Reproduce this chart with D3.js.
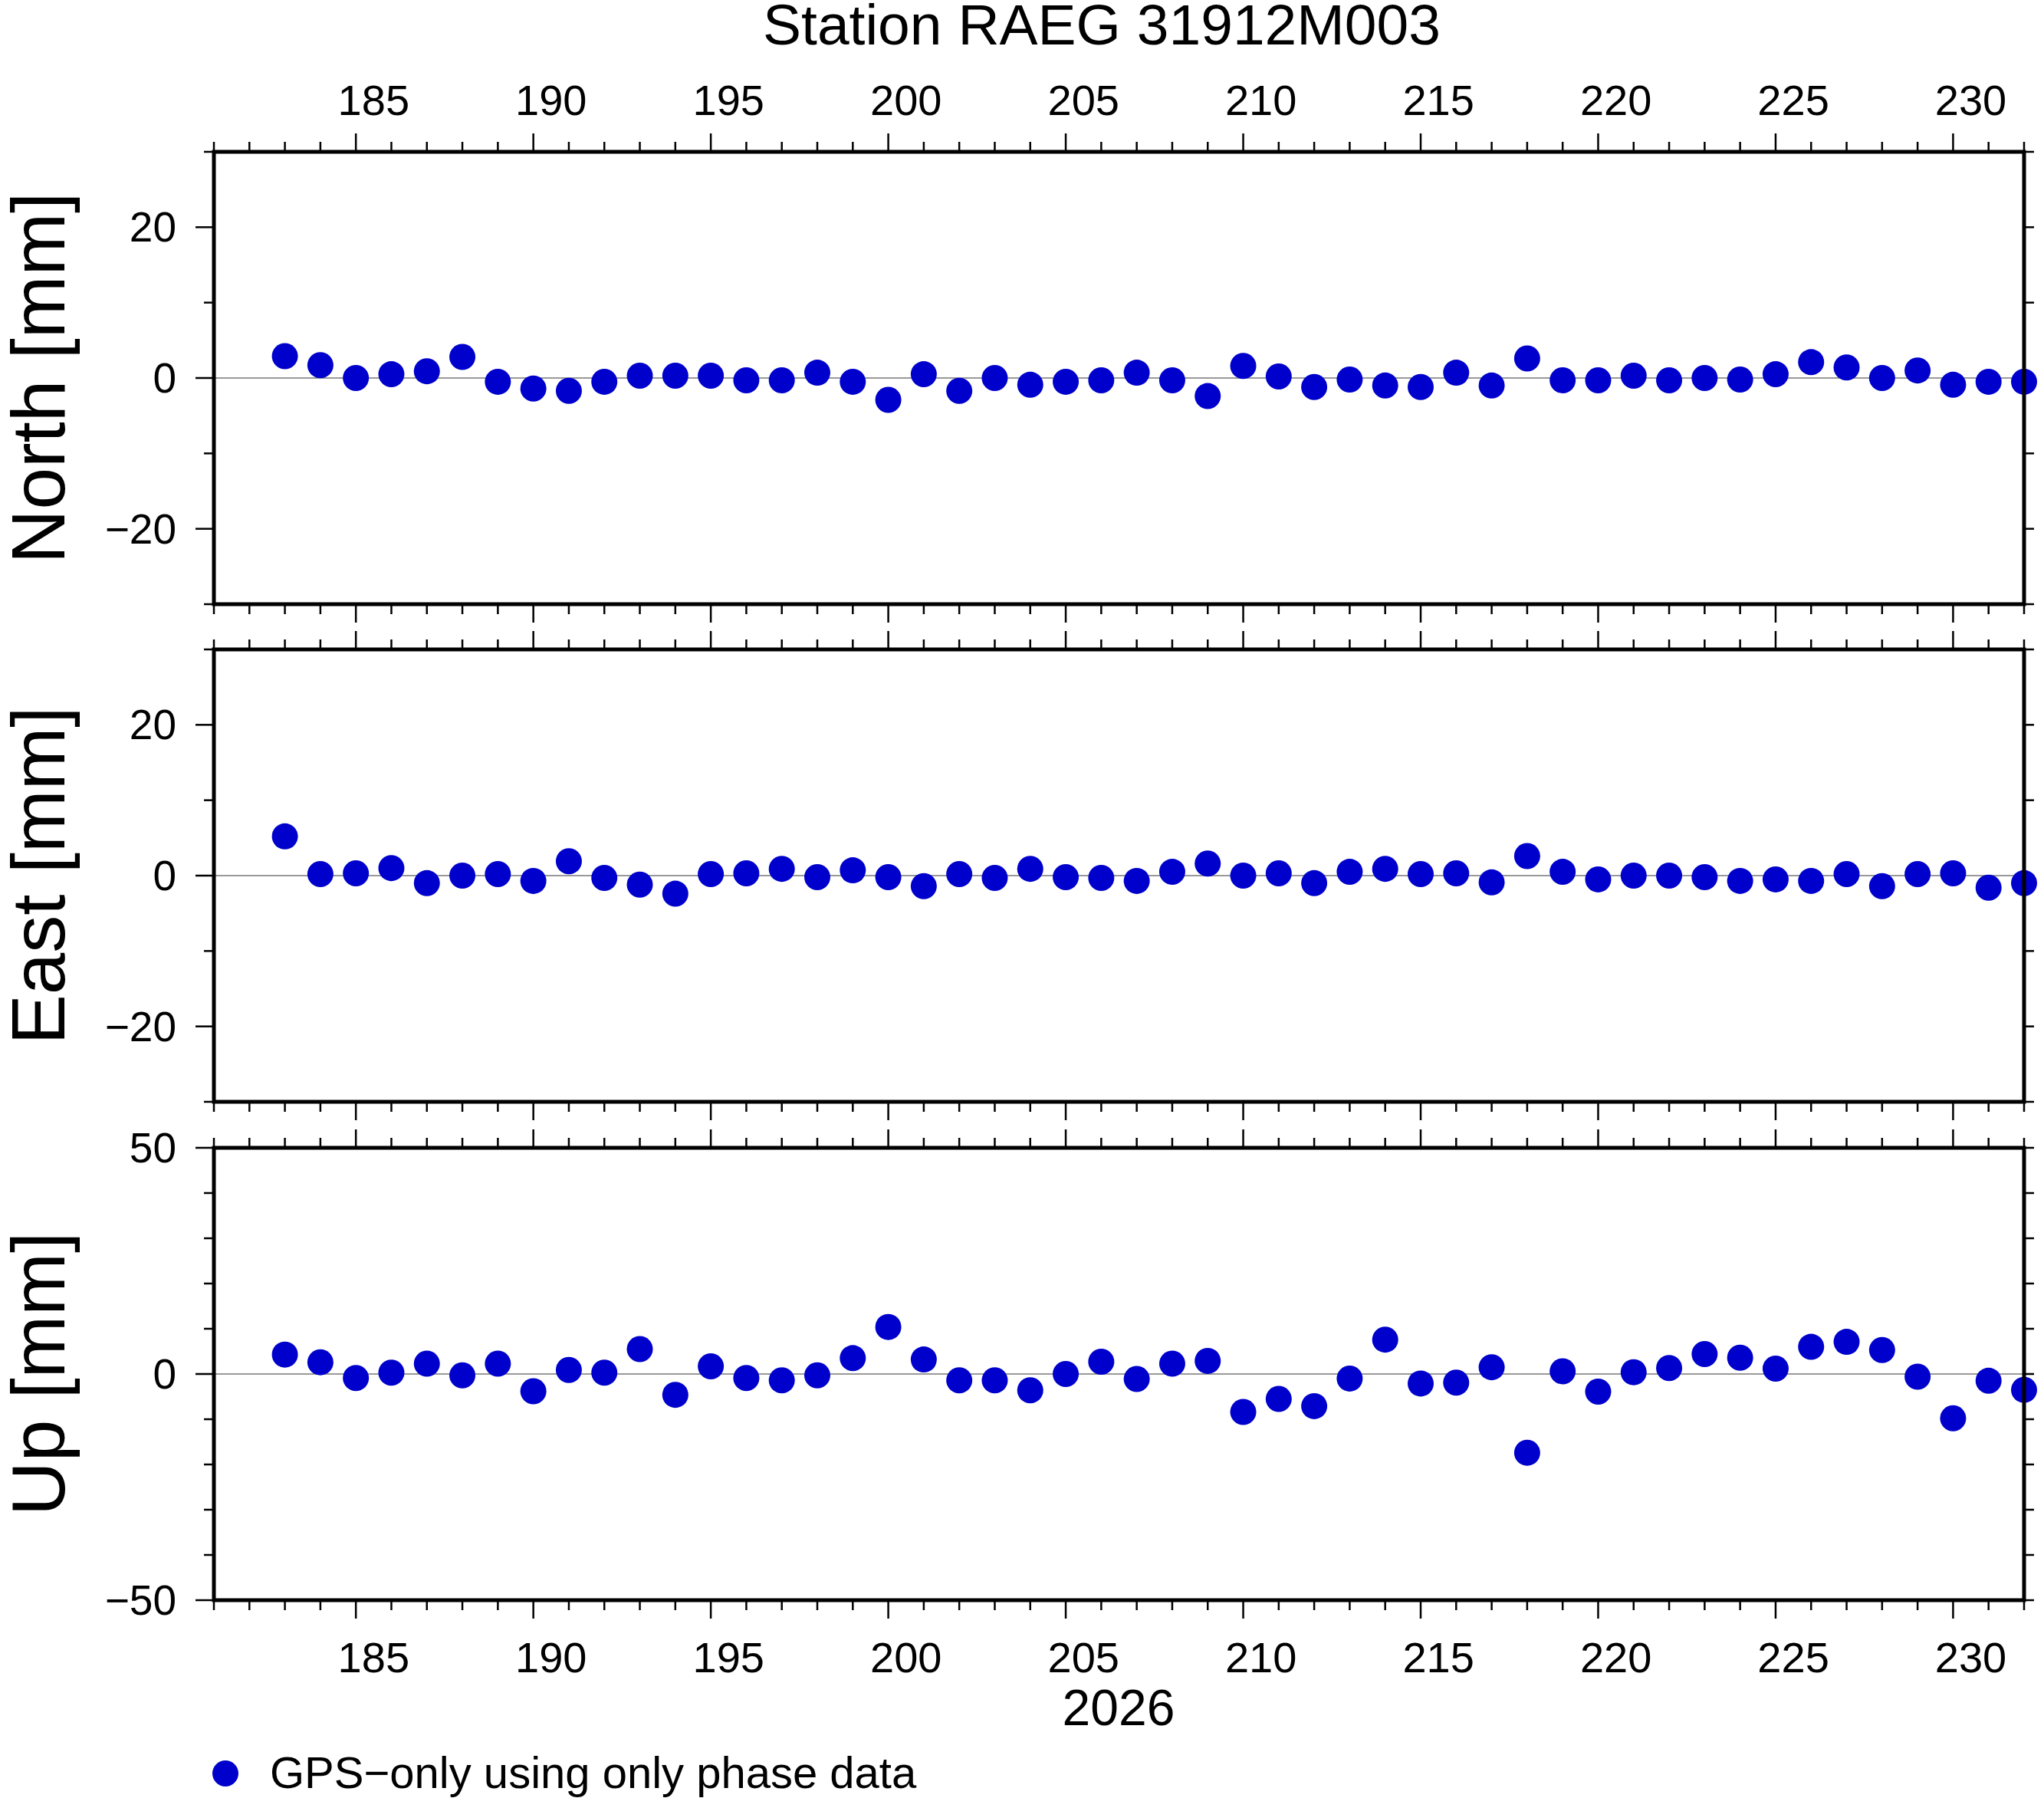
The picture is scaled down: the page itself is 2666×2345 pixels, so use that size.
<!DOCTYPE html>
<html><head><meta charset="utf-8">
<script src="https://cdn.jsdelivr.net/npm/d3@7"></script>
<style>body{margin:0;background:#fff}</style>
</head><body>
<svg id="chart"></svg>
<script>
var days = d3.range(183, 233);
var north = [2.9,1.7,0,0.5,0.9,2.8,-0.5,-1.4,-1.7,-0.5,0.3,0.3,0.3,-0.3,-0.3,0.7,-0.5,-2.9,0.5,-1.7,
  0,-0.9,-0.5,-0.3,0.7,-0.3,-2.4,1.6,0.2,-1.2,-0.2,-1.0,-1.2,0.7,-1.0,2.6,-0.3,-0.3,0.3,-0.3,
  0,-0.2,0.5,2.1,1.4,0,1.0,-0.9,-0.5,-0.5];
var east = [5.2,0.2,0.3,1.0,-1.0,0,0.2,-0.7,1.9,-0.3,-1.2,-2.4,0.2,0.3,0.9,-0.2,0.7,-0.2,-1.4,0.2,
  -0.3,0.9,-0.2,-0.3,-0.7,0.5,1.6,0,0.3,-1.0,0.5,0.9,0.2,0.3,-0.9,2.6,0.5,-0.5,0,0,
  -0.2,-0.7,-0.5,-0.7,0.2,-1.4,0.2,0.3,-1.6,-1.0];
var up = [4.3,2.6,-0.9,0.3,2.3,-0.3,2.3,-3.8,0.9,0.3,5.5,-4.6,1.7,-0.9,-1.4,-0.3,3.5,10.4,3.2,-1.4,
  -1.4,-3.6,0,2.7,-1.1,2.3,2.9,-8.4,-5.5,-7.1,-1.0,7.6,-2.1,-1.9,1.5,-17.4,0.6,-3.9,0.4,1.3,
  4.4,3.6,1.2,6.0,7.1,5.3,-0.6,-9.8,-1.5,-3.5];
var xTickLabels = [185,190,195,200,205,210,215,220,225,230];

var panels = [
  {label: "North [mm]", values: north, dom: [-30, 30], major: [-20, 0, 20], top: 198},
  {label: "East [mm]", values: east, dom: [-30, 30], major: [-20, 0, 20], top: 847},
  {label: "Up [mm]", values: up, dom: [-50, 50], major: [-50, 0, 50], top: 1497}
];

var W = 2666, H = 2345, left = 279, right = 2640, ph = 590;
var font = "'Liberation Sans', Arial, sans-serif";
var svg = d3.select("#chart").attr("width", W).attr("height", H);

var x = d3.scaleLinear().domain([181, 232]).range([left, right]);

svg.append("text").attr("x", 1437).attr("y", 58).attr("text-anchor", "middle")
  .attr("font-family", font).attr("font-size", 75).text("Station RAEG 31912M003");

panels.forEach(function(p, i) {
  var y = d3.scaleLinear().domain(p.dom).range([p.top + ph, p.top]);
  var g = svg.append("g");
  var minorY = d3.range(p.dom[0], p.dom[1] + 1, 10);

  // x ticks top and bottom
  [p.top, p.top + ph].forEach(function(yy, k) {
    var dir = k === 0 ? -1 : 1;
    d3.range(181, 233).forEach(function(d) {
      var len = d % 5 === 0 ? 24 : 13;
      g.append("line").attr("x1", x(d)).attr("x2", x(d))
        .attr("y1", yy).attr("y2", yy + dir * len)
        .attr("stroke", "#000").attr("stroke-width", 2.5);
    });
  });
  // y ticks left and right
  minorY.forEach(function(v) {
    var len = p.major.indexOf(v) >= 0 ? 24 : 13;
    g.append("line").attr("x1", left).attr("x2", left - len)
      .attr("y1", y(v)).attr("y2", y(v)).attr("stroke", "#000").attr("stroke-width", 2.5);
    g.append("line").attr("x1", right).attr("x2", right + 13)
      .attr("y1", y(v)).attr("y2", y(v)).attr("stroke", "#000").attr("stroke-width", 2.5);
  });
  p.major.forEach(function(v) {
    g.append("text").attr("x", 230).attr("y", y(v) + 19).attr("text-anchor", "end")
      .attr("font-family", font).attr("font-size", 55)
      .text(v < 0 ? "\u2212" + Math.abs(v) : v);
  });

  g.append("line").attr("x1", left).attr("x2", right).attr("y1", y(0)).attr("y2", y(0))
    .attr("stroke", "#777").attr("stroke-width", 1.5);

  g.selectAll("circle").data(p.values).enter().append("circle")
    .attr("cx", function(d, j) { return x(days[j]); })
    .attr("cy", function(d) { return y(d); })
    .attr("r", 17).attr("fill", "#0000cc");

  g.append("rect").attr("x", left).attr("y", p.top).attr("width", right - left).attr("height", ph)
    .attr("fill", "none").attr("stroke", "#000").attr("stroke-width", 5);

  g.append("text").attr("transform", "translate(84," + (p.top + ph / 2) + ") rotate(-90)")
    .attr("text-anchor", "middle").attr("font-family", font).attr("font-size", 98)
    .text(p.label);
});

xTickLabels.forEach(function(d) {
  svg.append("text").attr("x", x(d + 0.5)).attr("y", 150).attr("text-anchor", "middle")
    .attr("font-family", font).attr("font-size", 56).text(d);
  svg.append("text").attr("x", x(d + 0.5)).attr("y", 2181).attr("text-anchor", "middle")
    .attr("font-family", font).attr("font-size", 56).text(d);
});
svg.append("text").attr("x", 1459).attr("y", 2250).attr("text-anchor", "middle")
  .attr("font-family", font).attr("font-size", 66).text("2026");

svg.append("circle").attr("cx", 294).attr("cy", 2313).attr("r", 17).attr("fill", "#0000cc");
svg.append("text").attr("x", 352).attr("y", 2332).attr("font-family", font).attr("font-size", 58)
  .text("GPS\u2212only using only phase data");
</script>
</body></html>
